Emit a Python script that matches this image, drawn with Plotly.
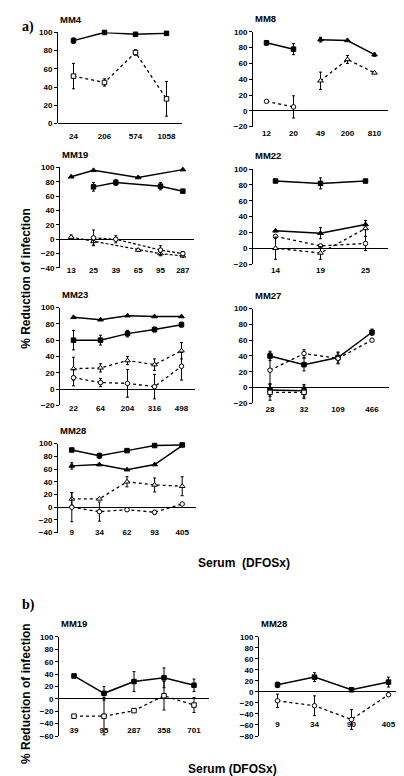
import plotly.graph_objects as go

W, H = 404, 776

# ---------------- data ----------------
MM4_cats = ["24", "206", "574", "1058"]
MM4_filled = [91, 100, 98, 99]
MM4_filled_err = [3, 0, 0, 0]
MM4_open = [52, 45, 78, 27]
MM4_open_err = [14, 4, 3, 19]

MM8_cats = ["12", "20", "49", "200", "810"]
MM8_filled_a = [86, 78, None, None, None]
MM8_filled_a_err = [3, 7, 0, 0, 0]
MM8_filled_b = [None, None, 90, 89, 71]
MM8_filled_b_err = [0, 0, 3, 0, 2]
MM8_open_a = [12, 5, None, None, None]
MM8_open_a_err = [0, 14, 0, 0, 0]
MM8_open_b = [None, None, 38, 65, 48]
MM8_open_b_err = [0, 0, 11, 5, 0]

MM19_cats = ["13", "25", "39", "65", "95", "287"]
MM19_tri = [87, 96, None, 86, None, 97]
MM19_sq = [None, 73, 79, None, 74, 67]
MM19_sq_err = [0, 6, 4, 0, 5, 0]
MM19_open_tri = [3, -3, None, -15, -20, -23]
MM19_open_tri_err = [3, 5, 0, 2, 3, 2]
MM19_open_sq = [None, 2, 0, None, -15, -20]
MM19_open_sq_err = [0, 11, 5, 0, 6, 3]

MM22_cats = ["14", "19", "25"]
MM22_top = [85, 82, 85]
MM22_top_err = [0, 7, 0]
MM22_low = [22, 19, 30]
MM22_low_err = [0, 7, 5]
MM22_open_c = [15, 3, 6]
MM22_open_c_err = [0, 0, 9]
MM22_open_t = [0, -6, 25]
MM22_open_t_err = [14, 8, 10]

MM23_cats = ["22", "64", "204", "316", "498"]
MM23_tri = [88, 85, 90, 89, 89]
MM23_sq = [60, 60, 68, 73, 79]
MM23_sq_err = [12, 6, 4, 3, 3]
MM23_open_up = [25, 26, 35, 30, 47]
MM23_open_up_err = [14, 5, 5, 7, 10]
MM23_open_low = [14, 8, 7, 3, 28]
MM23_open_low_err = [10, 5, 17, 15, 17]

MM27_cats = ["28", "32", "109", "466"]
MM27_filled = [40, 29, 38, 70]
MM27_filled_err = [6, 8, 7, 4]
MM27_open = [22, 43, 37, 60]
MM27_open_err = [22, 5, 7, 0]
MM27_filled2 = [-3, -4, None, None]
MM27_filled2_err = [8, 8, 0, 0]
MM27_open2 = [-6, -6, None, None]
MM27_open2_err = [10, 8, 0, 0]

MM28_cats = ["9", "34", "62", "93", "405"]
MM28_top = [90, 81, 89, 97, 98]
MM28_top_err = [0, 4, 0, 0, 2]
MM28_tri = [65, 67, 59, 67, 97]
MM28_tri_err = [5, 0, 0, 0, 0]
MM28_open_up = [13, 13, 40, 35, 33]
MM28_open_up_err = [10, 0, 8, 11, 15]
MM28_open_low = [0, -7, -4, -8, 5]
MM28_open_low_err = [23, 15, 0, 3, 0]

B19_cats = ["39", "95", "287", "358", "701"]
B19_filled = [37, 9, 28, 34, 22]
B19_filled_err = [0, 11, 16, 16, 10]
B19_open = [-28, -28, -19, 5, -10]
B19_open_err = [0, 30, 0, 23, 12]

B28_cats = ["9", "34", "90", "405"]
B28_filled = [13, 27, 4, 18]
B28_filled_err = [5, 8, 0, 9]
B28_open = [-16, -25, -50, -5]
B28_open_err = [12, 18, 18, 3]

# ---------------- styles ----------------
FS = dict(symbol="square", color="black", size=4.5, line=dict(color="black", width=1))
FT = dict(symbol="triangle-up", color="black", size=5, line=dict(color="black", width=1))
OS = dict(symbol="square", color="white", size=4.5, line=dict(color="black", width=1))
OC = dict(symbol="circle", color="white", size=4.5, line=dict(color="black", width=1))
OT = dict(symbol="triangle-up", color="white", size=5, line=dict(color="black", width=1))
SOLID = dict(color="black", width=1.5)
DOT = dict(color="black", width=1.3, dash="dot")
DASH = dict(color="black", width=1.2, dash="3px,2px")

# panel geometry (pixels): x0, x1, y_top, y_bottom, y range, label centre
panels = [
    dict(title="MM4", cats=MM4_cats, x=(50, 174), y=(20.7, 112.7), rng=(0, 100), lab=126,
         series=[(MM4_filled, MM4_filled_err, FS, SOLID), (MM4_open, MM4_open_err, OS, DOT)]),
    dict(title="MM8", cats=MM8_cats, x=(245, 380), y=(20, 116), rng=(-20, 100), lab=123,
         series=[(MM8_filled_a, MM8_filled_a_err, FS, SOLID), (MM8_filled_b, MM8_filled_b_err, FT, SOLID),
                 (MM8_open_a, MM8_open_a_err, OC, DOT), (MM8_open_b, MM8_open_b_err, OT, DOT)], gaps=False),
    dict(title="MM19", cats=MM19_cats, x=(52, 186), y=(157.3, 259), rng=(-40, 100), lab=262,
         series=[(MM19_tri, None, FT, SOLID), (MM19_sq, MM19_sq_err, FS, SOLID),
                 (MM19_open_tri, MM19_open_tri_err, OT, DASH), (MM19_open_sq, MM19_open_sq_err, OC, DASH)]),
    dict(title="MM22", cats=MM22_cats, x=(245, 380), y=(159, 255), rng=(-20, 100), lab=262,
         series=[(MM22_top, MM22_top_err, FS, SOLID), (MM22_low, MM22_low_err, FT, SOLID),
                 (MM22_open_c, MM22_open_c_err, OC, DOT), (MM22_open_t, MM22_open_t_err, OT, DOT)]),
    dict(title="MM23", cats=MM23_cats, x=(52, 187), y=(299, 398), rng=(-20, 100), lab=402,
         series=[(MM23_tri, None, FT, SOLID), (MM23_sq, MM23_sq_err, FS, SOLID),
                 (MM23_open_up, MM23_open_up_err, OT, DOT), (MM23_open_low, MM23_open_low_err, OC, DOT)]),
    dict(title="MM27", cats=MM27_cats, x=(245, 381), y=(300, 396), rng=(-20, 100), lab=403,
         series=[(MM27_filled, MM27_filled_err, FS, SOLID), (MM27_open, MM27_open_err, OC, DOT),
                 (MM27_filled2, MM27_filled2_err, FS, SOLID), (MM27_open2, MM27_open2_err, OS, DOT)], gaps=False),
    dict(title="MM28", cats=MM28_cats, x=(50, 188), y=(436.7, 526.7), rng=(-40, 100), lab=527,
         series=[(MM28_top, MM28_top_err, FS, SOLID), (MM28_tri, MM28_tri_err, FT, SOLID),
                 (MM28_open_up, MM28_open_up_err, OT, DOT), (MM28_open_low, MM28_open_low_err, OC, DOT)]),
    dict(title="MM19", cats=B19_cats, x=(51, 201), y=(632.3, 732.5), rng=(-60, 100), lab=727,
         series=[(B19_filled, B19_filled_err, FS, SOLID), (B19_open, B19_open_err, OS, DOT)]),
    dict(title="MM28", cats=B28_cats, x=(251, 399), y=(632.3, 732.5), rng=(-80, 100), lab=721,
         series=[(B28_filled, B28_filled_err, FS, SOLID), (B28_open, B28_open_err, OC, DOT)]),
]

TICKFONT = dict(family="Liberation Sans, Arial, sans-serif", size=8, color="black", weight="bold")

fig = go.Figure()
layout = {}
annotations = []

for i, p in enumerate(panels, start=1):
    xa = "x" if i == 1 else f"x{i}"
    ya = "y" if i == 1 else f"y{i}"
    xkey = "xaxis" if i == 1 else f"xaxis{i}"
    ykey = "yaxis" if i == 1 else f"yaxis{i}"
    n = len(p["cats"])
    for vals, err, mk, ln in p["series"]:
        tr = dict(x=p["cats"], y=vals, mode="lines+markers", marker=mk, line=ln,
                  xaxis=xa, yaxis=ya, showlegend=False, connectgaps=p.get("gaps", True),
                  cliponaxis=False, hoverinfo="skip")
        if err is not None:
            tr["error_y"] = dict(type="data", array=err, visible=True, color="black",
                                 thickness=1, width=1.5)
        fig.add_trace(go.Scatter(**tr))
    x0, x1 = p["x"]
    yt, yb = p["y"]
    lo, hi = p["rng"]
    layout[xkey] = dict(domain=[x0 / W, x1 / W], type="category", categoryorder="array",
                        categoryarray=p["cats"], range=[-0.5, n - 0.5], anchor="free",
                        position=max(0.0, 1 - (p["lab"] - 7) / H),
                        showline=False, showgrid=False, zeroline=False, ticks="",
                        tickfont=TICKFONT, fixedrange=True)
    layout[ykey] = dict(domain=[1 - yb / H, 1 - yt / H], range=[lo, hi], anchor=xa,
                        tickmode="linear", tick0=lo, dtick=20,
                        showline=True, linecolor="black", linewidth=1,
                        ticks="outside", ticklen=3, tickcolor="black", tickwidth=1,
                        showgrid=False, zeroline=True, zerolinecolor="black", zerolinewidth=1,
                        tickfont=TICKFONT, fixedrange=True)
    annotations.append(dict(text=p["title"], xref="paper", yref="paper",
                            x=x0 / W, y=1 - (yt - 6) / H, xanchor="left", yanchor="bottom",
                            showarrow=False,
                            font=dict(family="Liberation Sans, Arial, sans-serif", size=9.5,
                                      color="black", weight="bold")))

LABFONT = dict(family="Liberation Sans, Arial, sans-serif", size=12, color="black", weight="bold")
SERIF = dict(family="Liberation Serif, Times New Roman, serif", size=14, color="black", weight="bold")
annotations += [
    dict(text="a)", x=12 / W, y=1 - 15 / H, xanchor="left", yanchor="middle", font=SERIF),
    dict(text="b)", x=12 / W, y=1 - 600 / H, xanchor="left", yanchor="middle", font=SERIF),
    dict(text="% Reduction of infection", x=18 / W, y=1 - 270 / H, textangle=-90,
         xanchor="center", yanchor="middle", font=LABFONT),
    dict(text="% Reduction of infection", x=18 / W, y=1 - 690 / H, textangle=-90,
         xanchor="center", yanchor="middle", font=LABFONT),
    dict(text="Serum  (DFOSx)", x=236 / W, y=1 - 557 / H, xanchor="center", yanchor="middle",
         font=LABFONT),
    dict(text="Serum (DFOSx)", x=224 / W, y=1 - 766 / H, xanchor="center", yanchor="middle",
         font=LABFONT),
]
for a in annotations[-6:]:
    a.update(xref="paper", yref="paper", showarrow=False)

fig.update_layout(width=W, height=H, margin=dict(l=0, r=0, t=0, b=0),
                  paper_bgcolor="white", plot_bgcolor="white",
                  annotations=annotations, **layout)

fig.write_html("out.html", config={"displayModeBar": False})
